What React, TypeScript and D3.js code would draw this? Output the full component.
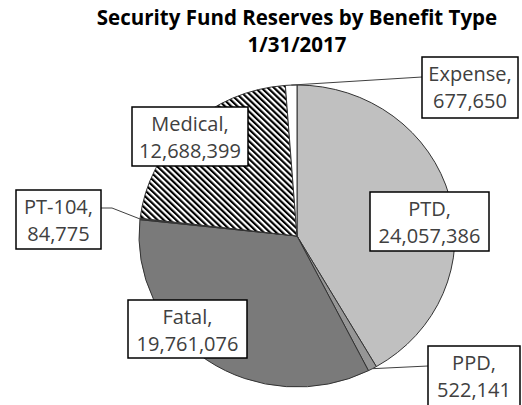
import React from "react";
import * as d3 from "d3";

const title = ["Security Fund Reserves by Benefit Type", "1/31/2017"];
const categories = ["PTD", "PPD", "Fatal", "PT-104", "Medical", "Expense"];
const values = [24057386, 522141, 19761076, 84775, 12688399, 677650];
const fills = ["#c0c0c0", "#969696", "#7a7a7a", "#4a4a4a", "url(#hatch)", "#ffffff"];

// label box layout (box position/size; optional leader elbow)
const labelLayout: Record<string, { x: number; y: number; w: number; h: number; anchor?: [number, number]; elbow?: [number, number] }> = {
  PTD: { x: 370, y: 192, w: 119, h: 59 },
  PPD: { x: 428, y: 346, w: 92, h: 62, anchor: [428, 366] },
  Fatal: { x: 128, y: 300, w: 119, h: 58 },
  "PT-104": { x: 16, y: 190, w: 85, h: 59, anchor: [101, 208], elbow: [112, 208] },
  Medical: { x: 132, y: 107, w: 116, h: 59 },
  Expense: { x: 422, y: 57, w: 96, h: 61, anchor: [422, 77] },
};

const W = 522, H = 405;
const cx = 297, cy = 236, rx = 158, ry = 151;

export default function App() {
  const pie = d3.pie<number>().sort(null).startAngle(0).endAngle(2 * Math.PI);
  const arcs = pie(values);
  const arc = d3.arc<d3.PieArcDatum<number>>().innerRadius(0).outerRadius(ry);
  const fmt = d3.format(",");
  const font = "'Open Sans', Lato, sans-serif";

  const edgePoint = (a: d3.PieArcDatum<number>): [number, number] => {
    const m = (a.startAngle + a.endAngle) / 2;
    return [cx + rx * Math.sin(m), cy - ry * Math.cos(m)];
  };

  return (
    <svg width={W} height={H} style={{ position: "absolute", left: 0, top: 0, background: "#fff" }}>
      <defs>
        <pattern id="hatch" patternUnits="userSpaceOnUse" width={4.2} height={4.2} patternTransform="rotate(-45)">
          <rect width={4.2} height={4.2} fill="#fff" />
          <rect width={2.1} height={4.2} fill="#000" />
        </pattern>
      </defs>
      <g fontFamily={font} fontWeight="bold" fontSize={20.5} textAnchor="middle" fill="#000">
        <text x={297} y={25}>{title[0]}</text>
        <text x={297} y={52}>{title[1]}</text>
      </g>
      <g transform={`translate(${cx},${cy}) scale(${rx / ry},1)`}>
        {arcs.map((a, i) => (
          <path key={categories[i]} d={arc(a) || ""} fill={fills[i]} stroke="#333" strokeWidth={1} vectorEffect="non-scaling-stroke" />
        ))}
      </g>
      {arcs.map((a, i) => {
        const L = labelLayout[categories[i]];
        if (!L.anchor) return null;
        const p = edgePoint(a);
        const pts = [p, ...(L.elbow ? [L.elbow] : []), L.anchor];
        return (
          <polyline key={"l" + i} points={pts.map((q) => q.join(",")).join(" ")} fill="none" stroke="#404040" strokeWidth={1} />
        );
      })}
      {categories.map((c, i) => {
        const L = labelLayout[c];
        return (
          <g key={"b" + c}>
            <rect x={L.x} y={L.y} width={L.w} height={L.h} fill="#fff" stroke="#000" strokeWidth={1.5} />
            <text x={L.x + L.w / 2} y={L.y + 24} textAnchor="middle" fontFamily={font} fontSize={20} fill="#404040">{c},</text>
            <text x={L.x + L.w / 2} y={L.y + 51} textAnchor="middle" fontFamily={font} fontSize={20} fill="#404040">{fmt(values[i])}</text>
          </g>
        );
      })}
    </svg>
  );
}
